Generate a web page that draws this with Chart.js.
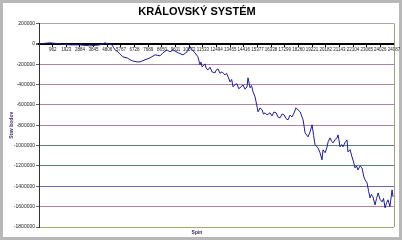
<!DOCTYPE html>
<html>
<head>
<meta charset="utf-8">
<script src="https://cdn.jsdelivr.net/npm/chart.js@4"></script>
<style>
  html, body { margin: 0; padding: 0; background: #fff; }
  #wrap { position: relative; width: 402px; height: 240px; }
</style>
</head>
<body>
<div id="wrap"><canvas id="chart" width="402" height="240"></canvas></div>
<script>
// Spin number (x) and point balance (y)
const spins = [
  1, 775, 1480, 2180, 2890, 3590, 4290, 4650, 4860, 5140, 5350, 5560, 5910, 6200, 6550, 6900,
  7110, 7460, 7810, 8170, 8520, 8730, 9010, 9220, 9430, 9790, 10140, 10420, 10630, 10770, 10980,
  11190, 11330, 11400, 11480, 11690, 11760, 11900, 12040, 12180, 12390, 12460, 12600, 12740, 12880,
  13090, 13200, 13310, 13450, 13560, 13660, 13800, 13940, 14050, 14150, 14360, 14500, 14640, 14710,
  14860, 14960, 15070, 15210, 15350, 15420, 15560, 15700, 15800, 15910, 16050, 16260, 16400, 16540,
  16690, 16830, 16970, 17110, 17250, 17390, 17530, 17670, 17810, 17950, 18090, 18240, 18380, 18590,
  18730, 18940, 19080, 19220, 19330, 19430, 19640, 19780, 19920, 19990, 20140, 20280, 20350, 20490,
  20600, 20700, 20840, 20980, 21050, 21190, 21300, 21400, 21540, 21680, 21750, 21900, 22030, 22140,
  22240, 22350, 22450, 22600, 22740, 22850, 22950, 23090, 23200, 23300, 23400, 23510, 23650, 23760,
  23870, 24010, 24150, 24250, 24360, 24470, 24570, 24700, 24850, 24920
];
const balance = [
  0, 10000, 0, -10000, -10000, -20000, -10000, 10000, 0, -10000, -59000, -79000, -128000, -138000, -167000, -177000,
  -177000, -157000, -138000, -108000, -118000, -88000, -59000, -79000, -59000, -88000, -108000, -79000, -29000, -59000, -88000,
  -128000, -206000, -180000, -226000, -197000, -240000, -256000, -230000, -275000, -285000, -260000, -246000, -290000, -275000,
  -305000, -290000, -324000, -374000, -350000, -423000, -400000, -393000, -440000, -432000, -403000, -445000, -423000, -334000,
  -432000, -410000, -472000, -521000, -619000, -668000, -630000, -649000, -690000, -678000, -698000, -678000, -708000, -670000,
  -678000, -720000, -727000, -690000, -698000, -735000, -747000, -700000, -718000, -680000, -629000, -650000, -668000, -747000,
  -875000, -914000, -865000, -796000, -900000, -993000, -1022000, -1071000, -1140000, -1042000, -1070000, -1012000, -963000, -924000,
  -960000, -973000, -940000, -924000, -895000, -1012000, -990000, -1012000, -970000, -944000, -1062000, -1040000, -1111000, -1160000,
  -1219000, -1200000, -1239000, -1200000, -1219000, -1300000, -1337000, -1366000, -1450000, -1514000, -1480000, -1504000, -1583000, -1520000,
  -1465000, -1530000, -1553000, -1520000, -1612000, -1560000, -1533000, -1600000, -1435000, -1504000
];
// Category-style tick labels every 961 spins
const spinTicks = [
  962, 1923, 2884, 3845, 4806, 5767, 6728, 7689, 8650, 9611, 10572, 11533, 12494,
  13455, 14416, 15377, 16338, 17299, 18260, 19221, 20182, 21143, 22104, 23065, 24026, 24987
];
const yMin = -1800000;
const yMax = 200000;
const yStep = 200000;

// barva mřížky podle hodnoty
function gridColor(v) {
  if (v === 0) return '#000000';
  if (v === 200000) return '#a8a8a8';
  if (v === -1000000 || v === -1200000) return '#5e7e6e';
  if (v === -1400000) return '#6a6ab0';
  if (v === -1800000) return '#a8a878';
  return '#b080a8';
}

// rámeček grafu a plochy
const framePlugin = {
  id: 'frame',
  beforeDraw(chart) {
    const c = chart.ctx;
    c.save();
    c.fillStyle = '#ffffff';
    c.fillRect(0, 0, chart.width, chart.height);
    c.strokeStyle = '#b8b8b8';
    c.lineWidth = 3;
    c.strokeRect(1.5, 1.5, chart.width - 3, chart.height - 3);
    c.restore();
  },
  afterDatasetsDraw(chart) {
    const a = chart.chartArea;
    const c = chart.ctx;
    c.save();
    c.strokeStyle = '#98a088';
    c.lineWidth = 1;
    c.beginPath();
    c.moveTo(Math.round(a.right) + 0.5, a.top);
    c.lineTo(Math.round(a.right) + 0.5, a.bottom);
    c.stroke();
    c.restore();
  }
};

new Chart(document.getElementById('chart'), {
  type: 'line',
  data: {
    datasets: [{
      label: 'Stav bodov',
      data: spins.map((s, i) => ({ x: s, y: balance[i] })),
      borderColor: '#1e1e8c',
      borderWidth: 1,
      pointRadius: 0,
      tension: 0
    }]
  },
  options: {
    responsive: false,
    animation: false,
    devicePixelRatio: 1,
    layout: { padding: { left: 0, right: 8, top: 0, bottom: 0 } },
    plugins: {
      legend: { display: false },
      tooltip: { enabled: false },
      title: {
        display: true,
        text: 'KRÁLOVSKÝ SYSTÉM',
        color: '#000',
        font: { family: 'Liberation Sans, Arial', size: 11, weight: 'bold' },
        padding: { top: 5.5, bottom: 4.8 }
      },
      subtitle: {
        display: true,
        position: 'bottom',
        text: 'Spin',
        color: '#3a2a5a',
        font: { family: 'Liberation Sans, Arial', size: 5, weight: 'bold' },
        padding: { top: 3, bottom: 4 }
      }
    },
    scales: {
      x: {
        type: 'linear',
        position: { y: 0 },
        min: 1,
        max: 24987,
        afterBuildTicks(scale) {
          scale.ticks = spinTicks.map(v => ({ value: v }));
        },
        ticks: {
          autoSkip: false,
          maxRotation: 0,
          color: '#202020',
          padding: 1,
          font: { family: 'Liberation Sans, Arial', size: 4.5 },
          callback: v => String(v)
        },
        grid: { display: true, drawOnChartArea: false, tickLength: 2, color: '#000' },
        border: { display: true, color: '#000000', width: 2 }
      },
      y: {
        min: yMin,
        max: yMax,
        afterFit(scale) { scale.width = 39; },
        ticks: {
          stepSize: yStep,
          color: '#202020',
          padding: 1,
          font: { family: 'Liberation Sans, Arial', size: 5 },
          callback: v => String(v)
        },
        grid: {
          color: ctx => gridColor(ctx.tick.value),
          lineWidth: ctx => (ctx.tick.value === 0 ? 2 : 1),
          tickColor: '#606060',
          tickLength: 3
        },
        border: { display: true, color: '#303030', width: 1 },
        title: {
          display: true,
          text: 'Stav bodov',
          color: '#3a2a5a',
          font: { family: 'Liberation Sans, Arial', size: 5, weight: 'bold' },
          padding: { top: 9, bottom: 0 }
        }
      }
    }
  },
  plugins: [framePlugin]
});
</script>
</body>
</html>
